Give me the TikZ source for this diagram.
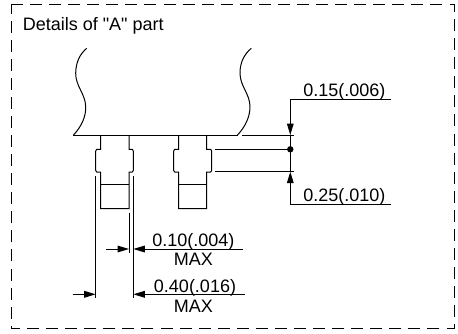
\documentclass[tikz,border=0pt]{standalone}
\usepackage{fontspec}
\newfontfamily\arialf{Liberation Sans}
\usetikzlibrary{arrows.meta}
\tikzset{
  ln/.style={line width=0.75pt,black},
  dimtip/.style={-{Triangle[length=8.6pt,width=5pt]}},
  lab/.style={inner sep=0pt,anchor=base,font=\arialf\fontsize{13.5}{13.5}\selectfont},
}
\begin{document}
\begin{tikzpicture}[x=0.75pt,y=-0.75pt]
\useasboundingbox (0,0) rectangle (458,333);
% frame
\draw[ln,dash pattern=on 9pt off 5.3pt] (11,4.5) -- (454,4.5) -- (454,328.7) -- (11,328.7) -- cycle;
\node[lab,anchor=base west] (title) at (22.5,30) {Details of "A" part};
% body
\draw[ln] (73.3,135.3) -- (237.5,135.3);
\draw[ln] (73.3,135.3) .. controls (82,126) and (86,116) .. (85.7,106.7)
  .. controls (85.5,94) and (75.5,86) .. (75.7,73.3) .. controls (75.8,62) and (80,54) .. (86.7,48.3);
\draw[ln] (237.3,135.3) .. controls (246,126) and (250,116) .. (250,106.7)
  .. controls (250,94) and (240,86) .. (240,73.3) .. controls (240,62) and (244.5,54) .. (251.3,48.3);
% leads
\foreach \a/\b/\c/\d in {95.7/100.7/129/133.3,173.7/178.7/206.7/211.7}{
  \draw[ln] (\b,135.3) -- (\b,149.3) -- (\a+1,149.3) -- (\a,151) -- (\a,170.5) -- (\a+1,172) -- (\b,172) -- (\b,208.7) -- (\c,208.7) -- (\c,172) -- (\d-1,172) -- (\d,170.5) -- (\d,151) -- (\d-1,149.3) -- (\c,149.3) -- (\c,135.3);
  \draw[ln] (\b,184) -- (\c,184);
}
% bottom dimensions
\coordinate (a1) at (95.7,176); \coordinate (a2) at (95.7,298);
\coordinate (b1) at (133.3,176); \coordinate (b2) at (133.3,298);
\coordinate (c1) at (129,212.7); \coordinate (c2) at (129,252.7);
\draw[ln] (a1) -- (a2);
\draw[ln] (b1) -- (b2);
\draw[ln] (c1) -- (c2);
\coordinate (d1) at (105.7,249); \coordinate (d2) at (129,249);
\coordinate (d3) at (242.7,249); \coordinate (d4) at (133.3,249);
\draw[ln,dimtip] (d1) -- (d2);
\draw[ln,dimtip] (d3) -- (d4);
\coordinate (e1) at (72.7,294.3); \coordinate (e2) at (95.7,294.3);
\coordinate (e3) at (245,294.3); \coordinate (e4) at (133.3,294.3);
\draw[ln,dimtip] (e1) -- (e2);
\draw[ln,dimtip] (e3) -- (e4);
\node[lab] (t1) at (193.3,246.3) {0.10(.004)};
\node[lab] (t2) at (193.3,265.7) {MAX};
\node[lab] (t3) at (195,292.3) {0.40(.016)};
\node[lab] (t4) at (193.3,312) {MAX};
% right dimensions
\coordinate (f1) at (242.3,135); \coordinate (f2) at (294.3,135);
\coordinate (g1) at (215,149.3); \coordinate (g2) at (290.3,149.3);
\coordinate (h1) at (215,171.7); \coordinate (h2) at (294.3,171.7);
\draw[ln] (f1) -- (f2);
\draw[ln] (g1) -- (g2);
\draw[ln] (h1) -- (h2);
\coordinate (i1) at (391,99.3); \coordinate (i2) at (290.3,99.3); \coordinate (i3) at (290.3,135);
\coordinate (j1) at (391,204.3); \coordinate (j2) at (290.3,204.3); \coordinate (j3) at (290.3,171.7);
\draw[ln,dimtip] (i1) -- (i2) -- (i3);
\draw[ln,dimtip] (j1) -- (j2) -- (j3);
\draw[ln] (i3) -- (j3);
\fill (g2) circle[radius=2.4pt];
\node[lab] (t5) at (344.3,96) {0.15(.006)};
\node[lab] (t6) at (344.3,201) {0.25(.010)};
\end{tikzpicture}
\end{document}
